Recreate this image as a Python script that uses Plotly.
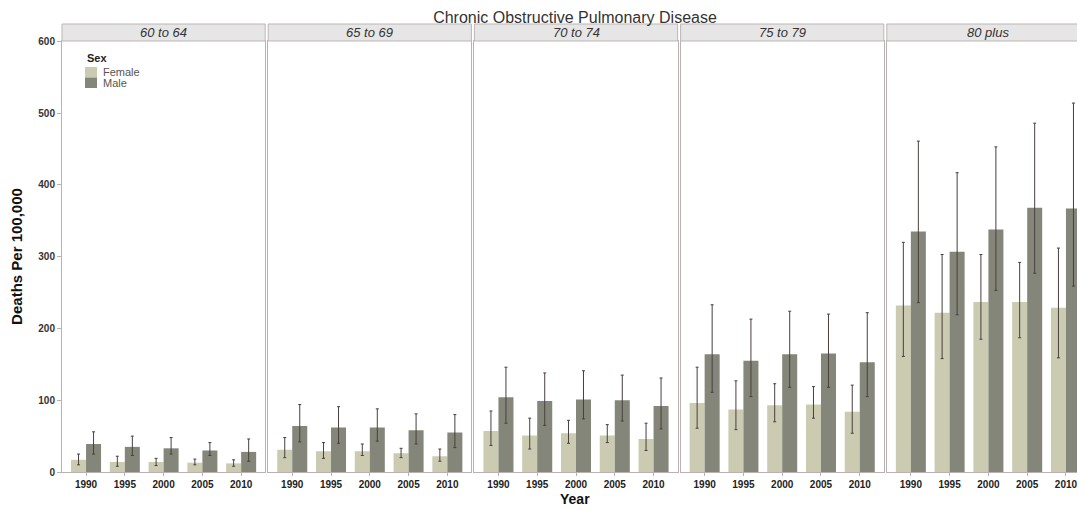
import plotly.graph_objects as go
from plotly.subplots import make_subplots

years = ["1990", "1995", "2000", "2005", "2010"]
age_groups = ["60 to 64", "65 to 69", "70 to 74", "75 to 79", "80 plus"]

female_rate = [
    [17, 14, 14, 13, 12],
    [31, 29, 29, 26, 22],
    [57, 51, 54, 51, 46],
    [96, 87, 93, 94, 84],
    [232, 222, 237, 237, 229],
]
female_lo = [
    [10, 8, 9, 10, 8],
    [20, 19, 23, 20, 15],
    [37, 32, 40, 41, 30],
    [61, 59, 70, 75, 54],
    [161, 158, 185, 187, 159],
]
female_hi = [
    [25, 22, 19, 18, 17],
    [48, 41, 39, 33, 32],
    [85, 75, 72, 66, 68],
    [146, 127, 123, 119, 121],
    [320, 303, 303, 292, 312],
]
male_rate = [
    [39, 35, 33, 30, 28],
    [64, 62, 62, 58, 55],
    [104, 99, 101, 100, 92],
    [164, 155, 164, 165, 153],
    [335, 307, 338, 368, 367],
]
male_lo = [
    [25, 23, 25, 23, 15],
    [42, 40, 43, 39, 34],
    [68, 65, 74, 71, 60],
    [111, 105, 118, 118, 105],
    [236, 219, 253, 277, 259],
]
male_hi = [
    [56, 50, 48, 41, 46],
    [94, 91, 88, 81, 80],
    [146, 138, 141, 135, 131],
    [233, 213, 224, 220, 222],
    [461, 417, 453, 486, 514],
]
y_ticks = [0, 100, 200, 300, 400, 500, 600]
legend_labels = ["Female", "Male"]

FEMALE_C = "#cbcbb2"
MALE_C = "#848679"
ERR_C = "#4a3f3f"
AXIS_C = "#bdb0b0"
FONT = "Liberation Sans, Arial, sans-serif"

# figure sits at an 8px page offset (body margin)
FIG_W, FIG_H = 1085, 500
ML, MR, MT, MB = 54, 3, 33, 36
W, H = float(FIG_W - ML - MR), float(FIG_H - MT - MB)

fig = make_subplots(rows=1, cols=5, shared_yaxes=True, horizontal_spacing=3 / W)

for i, grp in enumerate(age_groups):
    col = i + 1
    for name, vals, lo, hi, color in [
        ("Female", female_rate[i], female_lo[i], female_hi[i], FEMALE_C),
        ("Male", male_rate[i], male_lo[i], male_hi[i], MALE_C),
    ]:
        fig.add_trace(
            go.Bar(
                x=years,
                y=vals,
                name=name,
                legendgroup=name,
                showlegend=False,
                marker=dict(color=color, line=dict(width=0)),
                error_y=dict(
                    type="data",
                    symmetric=False,
                    array=[h - v for h, v in zip(hi, vals)],
                    arrayminus=[v - l for v, l in zip(vals, lo)],
                    color=ERR_C,
                    thickness=1,
                    width=1.5,
                ),
            ),
            row=1,
            col=col,
        )
    xname = "x" if col == 1 else f"x{col}"
    fig.add_shape(
        type="rect",
        xref=f"{xname} domain",
        yref="paper",
        x0=0,
        x1=1,
        y0=1.0,
        y1=1.0 + 17 / H,
        fillcolor="#e6e6e6",
        line=dict(color="#bfb5b5", width=1),
        layer="above",
    )
    fig.add_annotation(
        text=grp,
        xref=f"{xname} domain",
        yref="paper",
        x=0.5,
        y=1.0 + 8.5 / H,
        showarrow=False,
        font=dict(family=FONT, size=13, color="#333333", style="italic"),
        xanchor="center",
        yanchor="middle",
    )
    fig.update_xaxes(
        row=1,
        col=col,
        range=[-0.62, 4.62],
        showline=True,
        linecolor=AXIS_C,
        linewidth=1,
        mirror=True,
        ticks="outside",
        ticklen=3,
        tickcolor=AXIS_C,
        tickfont=dict(family=FONT, size=10, color="#222222", weight="bold"),
        showgrid=False,
        zeroline=False,
        automargin=False,
    )
    fig.update_yaxes(
        row=1,
        col=col,
        range=[0, 600.5],
        showline=True,
        linecolor=AXIS_C,
        linewidth=1,
        mirror=True,
        showgrid=False,
        zeroline=False,
        tickvals=y_ticks,
        automargin=False,
    )

fig.update_yaxes(
    row=1,
    col=1,
    ticks="outside",
    ticklen=4,
    tickcolor=AXIS_C,
    tickfont=dict(family=FONT, size=10, color="#333333", weight="bold"),
    title=dict(
        text="Deaths Per 100,000",
        font=dict(family=FONT, size=15, color="#111111", weight="bold"),
        standoff=12,
    ),
)

# manual legend (inside first panel)
legend_colors = [FEMALE_C, MALE_C]
fig.add_annotation(
    text="Sex", xref="paper", yref="paper",
    x=(85 - 62) / W, y=(472 - 58) / H, showarrow=False,
    xanchor="left", yanchor="middle",
    font=dict(family=FONT, size=11, color="#222222", weight="bold"),
)
sw_tops = [67, 77.5]
for lab, colr, top in zip(legend_labels, legend_colors, sw_tops):
    fig.add_shape(
        type="rect", xref="paper", yref="paper",
        x0=(85 - 62) / W, x1=(97 - 62) / W,
        y0=(472 - top) / H, y1=(472 - (top + 10.5)) / H,
        fillcolor=colr, line=dict(width=0),
    )
    fig.add_annotation(
        text=lab, xref="paper", yref="paper",
        x=(102 - 62) / W, y=(472 - (top + 5)) / H, showarrow=False,
        xanchor="left", yanchor="middle",
        font=dict(family=FONT, size=11, color="#555555"),
        borderpad=0,
    )

fig.add_annotation(
    text="Year",
    xref="paper",
    yref="paper",
    x=(575 - 62) / W,
    y=(472 - 499) / H,
    showarrow=False,
    font=dict(family=FONT, size=14, color="#111111", weight="bold"),
    xanchor="center",
    yanchor="middle",
)

fig.update_layout(
    width=FIG_W,
    height=FIG_H,
    margin=dict(l=ML, r=MR, t=MT, b=MB),
    paper_bgcolor="white",
    plot_bgcolor="white",
    barmode="group",
    bargap=0.226,
    bargroupgap=0,
    showlegend=False,
    title=dict(
        text="Chronic Obstructive Pulmonary Disease",
        x=(575 - 62) / W,
        xref="paper",
        xanchor="center",
        y=1 - 9 / FIG_H,
        yanchor="middle",
        font=dict(family=FONT, size=16, color="#333333"),
    ),
    font=dict(family=FONT),
)

fig.write_html("out.html")
